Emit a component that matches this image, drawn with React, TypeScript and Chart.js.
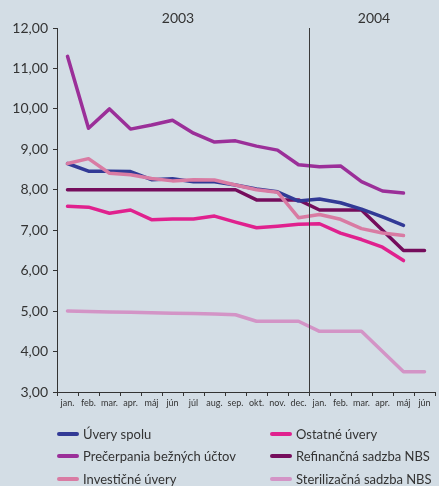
import React, { useEffect, useRef } from "react";
import { Chart, registerables } from "chart.js";

Chart.register(...registerables);

const months = ["jan.", "feb.", "mar.", "apr.", "máj", "jún", "júl", "aug.", "sep.", "okt.", "nov.", "dec.", "jan.", "feb.", "mar.", "apr.", "máj", "jún"];
const years = ["2003", "2004"];

const uverySpolu = [8.65, 8.46, 8.46, 8.45, 8.25, 8.27, 8.2, 8.2, 8.12, 8.02, 7.95, 7.72, 7.77, 7.68, 7.52, 7.33, 7.12, null];
const precerpania = [11.3, 9.52, 10.0, 9.5, 9.6, 9.72, 9.4, 9.18, 9.21, 9.08, 8.98, 8.62, 8.57, 8.59, 8.2, 7.97, 7.92, null];
const investicne = [8.65, 8.77, 8.41, 8.37, 8.28, 8.22, 8.25, 8.24, 8.12, 8.0, 7.94, 7.31, 7.39, 7.27, 7.04, 6.93, 6.87, null];
const ostatne = [7.59, 7.57, 7.42, 7.5, 7.26, 7.28, 7.28, 7.35, 7.2, 7.06, 7.1, 7.15, 7.16, 6.93, 6.77, 6.58, 6.25, null];
const refinancna = [8.0, 8.0, 8.0, 8.0, 8.0, 8.0, 8.0, 8.0, 8.0, 7.75, 7.75, 7.75, 7.5, 7.5, 7.5, 7.0, 6.5, 6.5];
const sterilizacna = [5.0, 4.99, 4.98, 4.97, 4.96, 4.95, 4.94, 4.93, 4.91, 4.75, 4.75, 4.75, 4.5, 4.5, 4.5, 4.0, 3.5, 3.5];

const seriesNames = ["Úvery spolu", "Ostatné úvery", "Prečerpania bežných účtov", "Refinančná sadzba NBS", "Investičné úvery", "Sterilizačná sadzba NBS"];
const seriesData = [uverySpolu, ostatne, precerpania, refinancna, investicne, sterilizacna];
const seriesColors = ["#323a96", "#e0218e", "#9b2f99", "#750d5c", "#d97ba3", "#d394c6"];
const seriesOrder = [2, 3, 1, 4, 0, 5];

const FONT = "Lato, 'Noto Sans', sans-serif";
const BG = "#d3dde5";

const overlayPlugin = {
  id: "overlay",
  afterDraw(chart: any) {
    const ctx = chart.ctx;
    const x = chart.scales.x;
    const area = chart.chartArea;
    const divX = (x.getPixelForValue(11) + x.getPixelForValue(12)) / 2;
    ctx.save();
    // year divider
    ctx.strokeStyle = "#3a3a3a";
    ctx.lineWidth = 1;
    ctx.beginPath();
    ctx.moveTo(Math.round(divX) + 0.5, area.top);
    ctx.lineTo(Math.round(divX) + 0.5, area.bottom + 2);
    ctx.stroke();
    // year labels
    ctx.fillStyle = "#333";
    ctx.font = `14px ${FONT}`;
    ctx.textAlign = "center";
    ctx.textBaseline = "middle";
    ctx.fillText(years[0], (area.left + divX) / 2 - 5, 18);
    ctx.fillText(years[1], (divX + area.right) / 2 + 2, 18);
    // legend
    ctx.font = `13px ${FONT}`;
    ctx.textAlign = "left";
    ctx.lineCap = "round";
    const cols = [57, 270];
    const rows = [434, 456, 479];
    seriesNames.forEach((name, i) => {
      const cx = cols[i % 2];
      const cy = rows[Math.floor(i / 2)];
      ctx.strokeStyle = seriesColors[i];
      ctx.lineWidth = 4;
      ctx.beginPath();
      ctx.moveTo(cx + 2, cy);
      ctx.lineTo(cx + 20, cy);
      ctx.stroke();
      ctx.fillStyle = "#333";
      ctx.fillText(name, cx + 26, cy + 1);
    });
    ctx.restore();
  },
};

export default function App() {
  const ref = useRef<HTMLCanvasElement>(null);
  useEffect(() => {
    document.body.style.margin = "0";
    document.body.style.background = BG;
    const chart = new Chart(ref.current!, {
      type: "line",
      data: {
        labels: months,
        datasets: seriesNames.map((name, i) => ({
          label: name,
          data: seriesData[i],
          borderColor: seriesColors[i],
          backgroundColor: seriesColors[i],
          borderWidth: 3.5,
          pointRadius: 0,
          tension: 0,
          fill: false,
          borderJoinStyle: "round" as const,
          borderCapStyle: "round" as const,
          order: seriesOrder[i],
        })),
      },
      options: {
        animation: false,
        responsive: false,
        maintainAspectRatio: false,
        layout: { padding: { top: 28, right: 4, left: 0, bottom: 0 } },
        plugins: { legend: { display: false }, tooltip: { enabled: false } },
        scales: {
          x: {
            offset: true,
            grid: { offset: true, drawOnChartArea: false, drawTicks: true, tickLength: 4, color: "#333" },
            border: { display: true, color: "#333", width: 1 },
            ticks: { color: "#333", font: { size: 9, family: FONT }, padding: 2, maxRotation: 0, autoSkip: false },
            afterFit: (s: any) => { s.height = 94; },
          },
          y: {
            min: 3,
            max: 12,
            grid: { drawOnChartArea: false, drawTicks: true, tickLength: 4, color: "#333" },
            border: { display: true, color: "#333", width: 1 },
            ticks: {
              stepSize: 1,
              color: "#333",
              font: { size: 14, family: FONT },
              padding: 5,
              callback: (v: any) => Number(v).toFixed(2).replace(".", ","),
            },
            afterFit: (s: any) => { s.width = 57; },
          },
        },
      },
      plugins: [overlayPlugin],
    });
    return () => chart.destroy();
  }, []);
  return (
    <div style={{ width: 439, height: 486, background: BG }}>
      <canvas ref={ref} width={439} height={486} style={{ display: "block" }} />
    </div>
  );
}
